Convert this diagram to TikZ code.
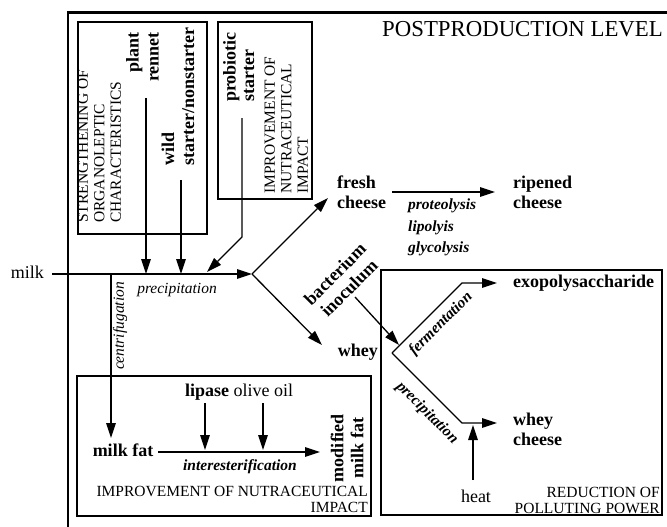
\documentclass[tikz,border=0pt]{standalone}
\usepackage{fontspec}
\setmainfont{Liberation Serif}
\usetikzlibrary{arrows.meta}
\begin{document}
\begin{tikzpicture}[x=1pt,y=-1pt,
  arr/.style={line width=1.3pt,-{Triangle[length=15pt,width=9.5pt]}},
  boxline/.style={line width=1.1pt},
  big/.style={font=\fontsize{18}{18.5}\selectfont\bfseries, inner sep=0pt},
  big2/.style={font=\fontsize{18}{20}\selectfont\bfseries, inner sep=0pt},
  reg/.style={font=\fontsize{18}{20}\selectfont, inner sep=0pt},
  captxt/.style={font=\fontsize{15.5}{16.5}\selectfont, inner sep=0pt},
  captxtb/.style={font=\fontsize{15.5}{16.5}\selectfont, inner sep=0pt},
  proc/.style={font=\fontsize{15.5}{21.5}\selectfont\bfseries\itshape, inner sep=0pt},
  ital/.style={font=\fontsize{15.5}{17}\selectfont\itshape, inner sep=0pt}]
\useasboundingbox (0,0) rectangle (667,527);
% outer frame
\draw[line width=2.2pt] (68,527) -- (68,12.5) -- (667,12.5);
\node[anchor=base east, font=\fontsize{22.8}{24}\selectfont, inner sep=0pt] (title) at (663,37) {POSTPRODUCTION LEVEL};
% top boxes
\draw[boxline] (78,22) rectangle (207,234);
\draw[boxline] (218,22) rectangle (312,199);
\node[captxt, rotate=90, align=left, anchor=north west] (strength) at (77.5,223) {STRENGTHENING OF\\ORGANOLEPTIC\\CHARACTERISTICS};
\node[big2, rotate=90, align=right, anchor=north east] (plant) at (126,32) {plant\\rennet};
\node[big2, rotate=90, align=left, anchor=north west] (wild) at (161.5,166) {wild\\starter/nonstarter};
\node[big, rotate=90, align=left, anchor=north west] (probio) at (223,102) {probiotic\\starter};
\node[captxt, rotate=90, align=left, anchor=north west] (improve1) at (264.5,194) {IMPROVEMENT OF\\NUTRACEUTICAL\\IMPACT};
% main line
\node[reg, anchor=base east] (milk) at (44,278) {milk};
\coordinate (m0) at (52,274);
\coordinate (split) at (252,274);
\coordinate (cf) at (111,274);
\coordinate (plantS) at (146,98);
\coordinate (plantE) at (146,274);
\coordinate (wildS) at (181,180);
\coordinate (wildE) at (181,274);
\coordinate (proS) at (242,118);
\coordinate (proK) at (242,237);
\coordinate (proE) at (207,272);
\draw[arr] (m0) -- (split);
\draw[arr] (plantS) -- (plantE);
\draw[arr] (wildS) -- (wildE);
\draw[arr] (proS) -- (proK) -- (proE);
\node[ital, anchor=base] (precip1) at (177,293) {precipitation};
% branches
\node[big2, align=left, anchor=north west] (fresh) at (337,176) {fresh\\cheese};
\node[big2, align=left, anchor=north west] (ripe) at (513,176) {ripened\\cheese};
\node[proc, align=left, anchor=north west] (enz) at (408,199) {proteolysis\\lipolyis\\glycolysis};
\coordinate (freshIn) at (328,198);
\coordinate (wheyIn) at (322,345);
\draw[arr] (split) -- (freshIn);
\draw[arr] (split) -- (wheyIn);
\coordinate (ripS) at (392,192);
\coordinate (ripE) at (495,192);
\draw[arr] (ripS) -- (ripE);
\node[big, anchor=base east] (whey) at (378,356) {whey};
\node[big2, rotate=45, align=center] (bact) at (342,281) {bacterium\\inoculum};
\coordinate (bactS) at (355,297);
\coordinate (bactE) at (399,345);
\draw[arr] (bactS) -- (bactE);
% right box
\draw[boxline] (381,270) rectangle (662,515);
\coordinate (jw) at (392,353);
\coordinate (upK) at (462,283);
\coordinate (upE) at (497,283);
\coordinate (loK) at (462,423);
\coordinate (loE) at (497,423);
\draw[arr] (jw) -- (upK) -- (upE);
\draw[arr] (jw) -- (loK) -- (loE);
\node[proc, rotate=45] (ferm) at (441,324) {fermentation};
\node[proc, rotate=-45] (precip2) at (427,413) {precipitation};
\node[big, anchor=base west] (exo) at (513,287) {exopolysaccharide};
\node[big2, align=left, anchor=north west] (wcheese) at (513,413) {whey\\cheese};
\node[reg, anchor=base] (heat) at (476,502) {heat};
\coordinate (heatS) at (473,480);
\coordinate (heatE) at (473,425);
\draw[arr] (heatS) -- (heatE);
\node[captxtb, align=right, anchor=south east] (reduc) at (660,514) {REDUCTION OF\\POLLUTING POWER};
% bottom-left box
\draw[boxline] (77,376) rectangle (371,516);
\coordinate (cfE) at (111,438);
\draw[arr] (cf) -- (cfE);
\node[ital, rotate=90] (centri) at (120,326) {centrifugation};
\node[big, anchor=base] (milkfat) at (123,456) {milk fat};
\node[anchor=base west, inner sep=0pt, font=\fontsize{18}{20}\selectfont] (lipase) at (185,396) {\textbf{lipase} olive oil};
\coordinate (lipS) at (205,403);
\coordinate (lipE) at (205,450);
\coordinate (oilS) at (263,403);
\coordinate (oilE) at (263,450);
\draw[arr] (lipS) -- (lipE);
\draw[arr] (oilS) -- (oilE);
\coordinate (mfS) at (158,452);
\coordinate (mfE) at (320,452);
\draw[arr] (mfS) -- (mfE);
\node[proc, anchor=base] (inter) at (240,470) {interesterification};
\node[big2, rotate=90, align=center] (modif) at (347,448) {modified\\milk fat};
\node[captxtb, align=right, anchor=south east] (improve2) at (368,513) {IMPROVEMENT OF NUTRACEUTICAL\\IMPACT};
\end{tikzpicture}
\end{document}
